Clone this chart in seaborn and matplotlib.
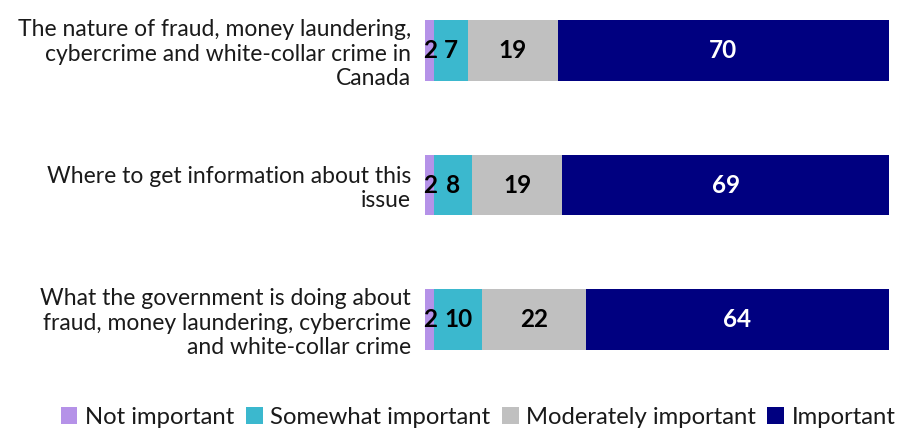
import matplotlib
matplotlib.use("Agg")
import matplotlib.pyplot as plt
import seaborn as sns
import pandas as pd
import numpy as np
from matplotlib.patches import Patch

categories = [
    "The nature of fraud, money laundering,\ncybercrime and white-collar crime in\nCanada",
    "Where to get information about this\nissue",
    "What the government is doing about\nfraud, money laundering, cybercrime\nand white-collar crime",
]
series = ["Not important", "Somewhat important", "Moderately important", "Important"]
not_important = [2, 2, 2]
somewhat_important = [7, 8, 10]
moderately_important = [19, 19, 22]
important = [70, 69, 64]
colors = ["#B592E8", "#3BB8CE", "#C0C0C0", "#000080"]
text_colors = ["black", "black", "black", "white"]

sns.set_theme(style="white")
plt.rcParams["font.family"] = ["Lato", "DejaVu Sans"]

values = np.array([not_important, somewhat_important, moderately_important, important])
cum = values.cumsum(axis=0)
starts = cum - values

fig = plt.figure(figsize=(9.04, 4.30), dpi=100)
ax = fig.add_axes([425 / 904, 1 - 350 / 430, 464 / 904, 330 / 430])

bar_w = 0.453
# Stacked bars: draw cumulative totals from the widest down
for i in range(len(series) - 1, -1, -1):
    df = pd.DataFrame({"cat": categories, "val": cum[i]})
    sns.barplot(data=df, x="val", y="cat", order=categories, color=colors[i],
                width=bar_w, orient="h", ax=ax, saturation=1, linewidth=0)

for i in range(len(series)):
    for j in range(len(categories)):
        ax.text(starts[i, j] + values[i, j] / 2, j, f"{values[i, j]}",
                ha="center", va="center", fontsize=17.5, fontweight="bold",
                color=text_colors[i])

ax.set_xlim(0, 98)
ax.set_ylim(2 + bar_w / 2, -bar_w / 2)
ax.set_xlabel("")
ax.set_ylabel("")
ax.set_xticks([])
for s in ax.spines.values():
    s.set_visible(False)
ax.tick_params(axis="y", length=0, pad=10, labelsize=16.5)
for t in ax.get_yticklabels():
    t.set_horizontalalignment("right")
    t.set_color("#1a1a1a")
    t.set_linespacing(1.2)

handles = [Patch(facecolor=c, edgecolor="none") for c in colors]
fig.legend(handles, series, loc="center", bbox_to_anchor=(478 / 904, 1 - 417 / 430),
           ncol=4, frameon=False, fontsize=17.2, handlelength=0.7, handleheight=0.7,
           handletextpad=0.3, columnspacing=0.5, labelcolor="#1a1a1a",
           borderpad=0, borderaxespad=0)

fig.savefig("out.png", dpi=100)
